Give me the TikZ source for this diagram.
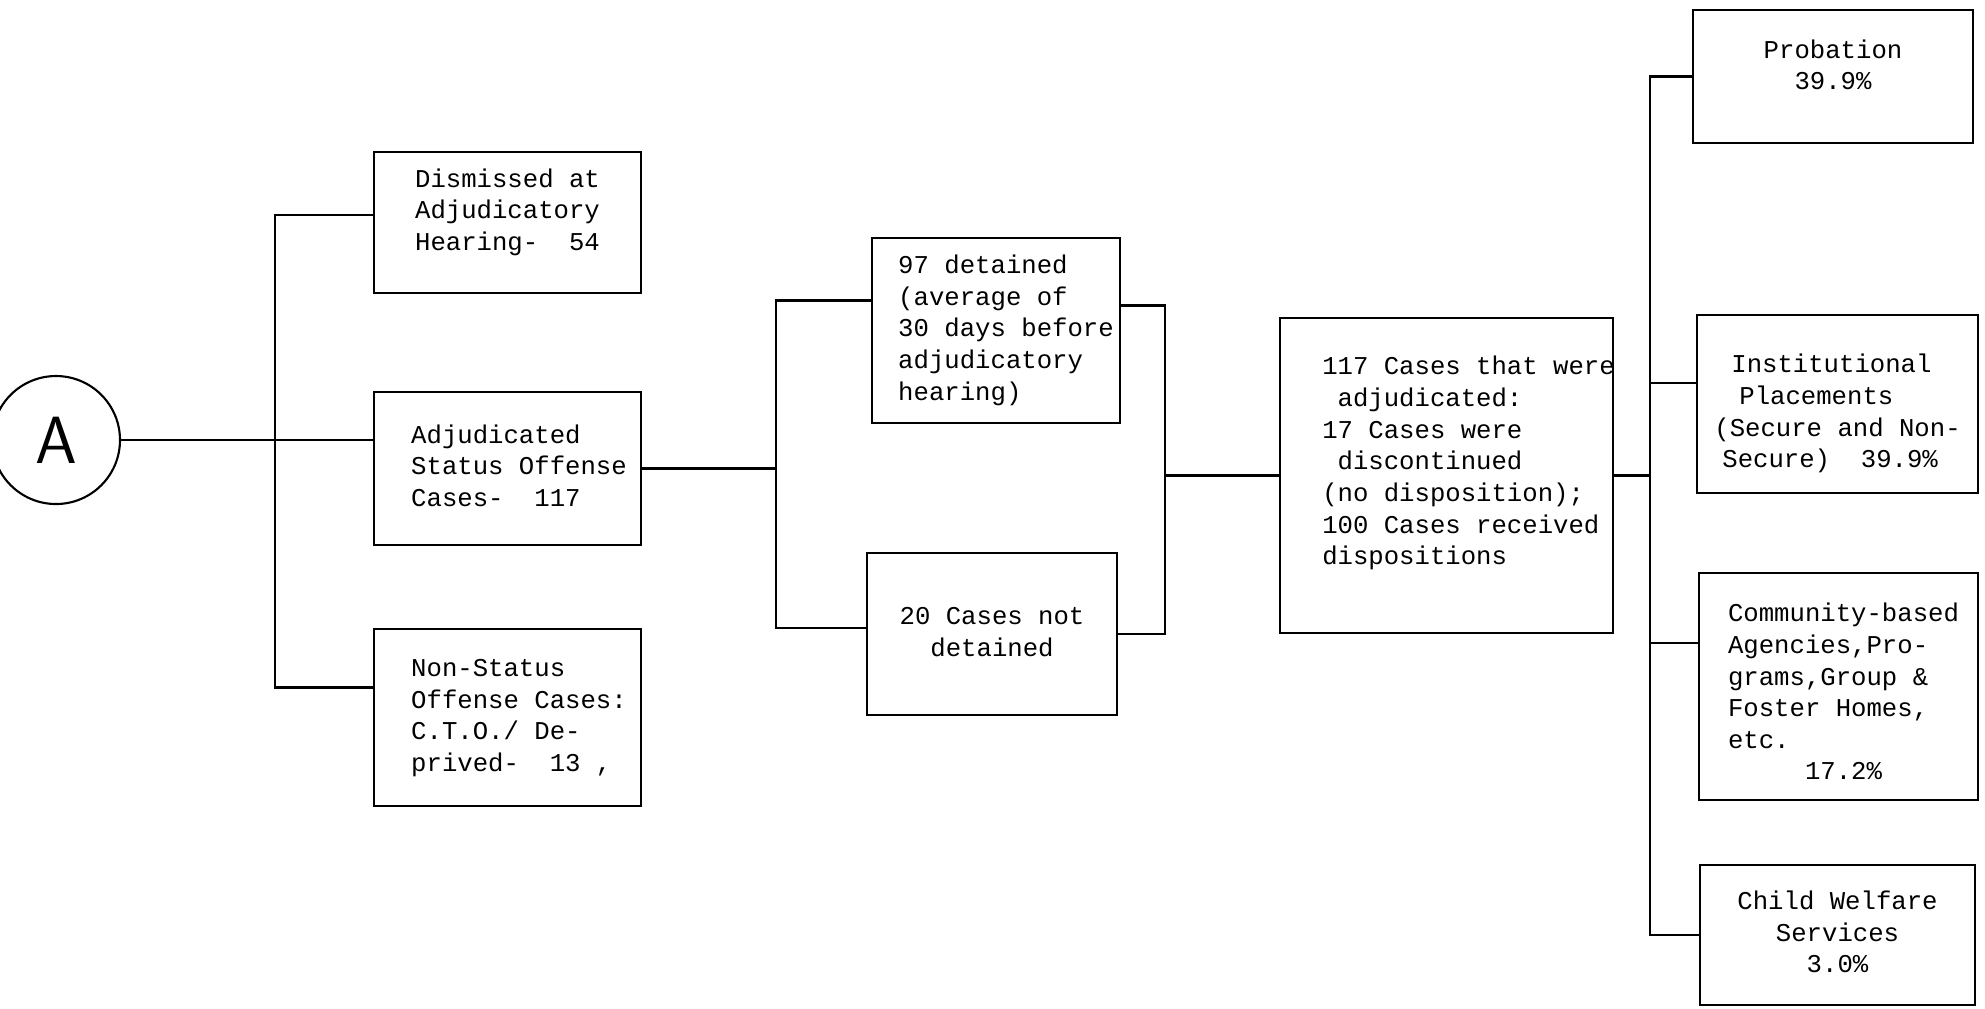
\documentclass[tikz,border=0pt]{standalone}
\usepackage{fontspec}
\newfontfamily\typewriter{Liberation Mono}
\newcommand{\typesize}{\typewriter\fontsize{7.3}{9.0}\selectfont}
% left aligned lines, moved right by #2 and up by #1 inside the box
\newcommand{\leftlines}[3][0pt]{\raisebox{#1}[\height][\depth]{\hspace*{#2}%
  \begin{tabular}{@{}l@{}}#3\end{tabular}\hspace*{-#2}}}
\newcommand{\midlines}[2][0pt]{\raisebox{#1}[\height][\depth]{%
  \begin{tabular}{@{}c@{}}#2\end{tabular}}}

\begin{document}
\begin{tikzpicture}[x=0.1mm,y=-0.1mm,
  box/.style={draw,line width=0.8pt,inner sep=0pt,font=\typesize},
  wire/.style={line width=0.7pt}]
\useasboundingbox (0,0) rectangle (1985,1008);

\node[draw,circle,line width=0.6pt,minimum size=12.8mm,inner sep=0pt,
  font=\sffamily\fontsize{19}{19}\selectfont] (A) at (56,440) {A};

% first split
\node[box,minimum width=26.7mm,minimum height=14.1mm] (dism) at (507.5,222.5)
  {\leftlines[1mm]{0mm}{Dismissed at\\Adjudicatory\\Hearing-\ \ 54}};
\node[box,minimum width=26.7mm,minimum height=15.3mm] (adj) at (507.5,468.5)
  {\leftlines{1.15mm}{Adjudicated\\Status Offense\\Cases-\ \ 117}};
\node[box,minimum width=26.7mm,minimum height=17.7mm] (non) at (507.5,717.5)
  {\leftlines{1.15mm}{Non-Status\\Offense Cases:\\C.T.O./ De-\\prived-\ \ 13 ,}};

% detention
\node[box,minimum width=24.8mm,minimum height=18.5mm] (det) at (996,330.5)
  {\leftlines{1mm}{97 detained\\(average of\\30 days before\\adjudicatory\\hearing)}};
\node[box,minimum width=25.0mm,minimum height=16.2mm] (notdet) at (992,634)
  {\midlines{20 Cases not\\detained}};

\node[box,minimum width=33.3mm,minimum height=31.5mm] (res) at (1446.5,475.5)
  {\leftlines[1.2mm]{2.2mm}{117 Cases that were\\\phantom{a}adjudicated:\\17 Cases were\\
   \phantom{a}discontinued\\(no disposition);\\100 Cases received\\dispositions}};

% dispositions
\node[box,minimum width=28.0mm,minimum height=13.3mm] (prob) at (1833,76.5)
  {\midlines[0.9mm]{Probation\\39.9\%}};
\node[box,minimum width=28.1mm,minimum height=17.8mm] (inst) at (1837.5,404)
  {\leftlines[-1mm]{0mm}{\hspace*{1.7mm}Institutional\\\hspace*{2.5mm}Placements\\
   (Secure and Non-\\\hspace*{0.8mm}Secure)\ \ 39.9\%}};
\node[box,minimum width=27.9mm,minimum height=22.7mm] (comm) at (1838.5,686.5)
  {\leftlines[-0.8mm]{0.5mm}{Community-based\\Agencies,Pro-\\grams,Group \&\\Foster Homes,\\
   etc.\\\phantom{00000}17.2\%}};
\node[box,minimum width=27.5mm,minimum height=14.0mm] (child) at (1837.5,935)
  {\midlines{Child Welfare\\Services\\3.0\%}};

\coordinate (busA) at (275,440);
\coordinate (busB) at (776,468.5);
\coordinate (busC) at (1165,475.5);
\coordinate (busD) at (1650,475.5);

\draw[wire] (A.east) -- (adj.west |- A.east);
\draw[wire] ([yshift=.75mm]dism.west) -| (busA) |- ([yshift=3mm]non.west);

\draw[wire] (adj.east) -- (busB);
\draw[wire] ([yshift=3mm]det.west) -| (busB) |- ([yshift=.6mm]notdet.west);
\draw[wire] ([yshift=2.5mm]det.east) -| (busC) |- (notdet.east);
\draw[wire] (busC) -- (res.west);

\draw[wire] (res.east) -- (busD);
\draw[wire] (prob.west) -| (busD) |- (child.west);
\draw[wire] ([yshift=2.1mm]inst.west) -| (busD);
\draw[wire] ([yshift=4.35mm]comm.west) -| (busD);
\end{tikzpicture}
\end{document}
